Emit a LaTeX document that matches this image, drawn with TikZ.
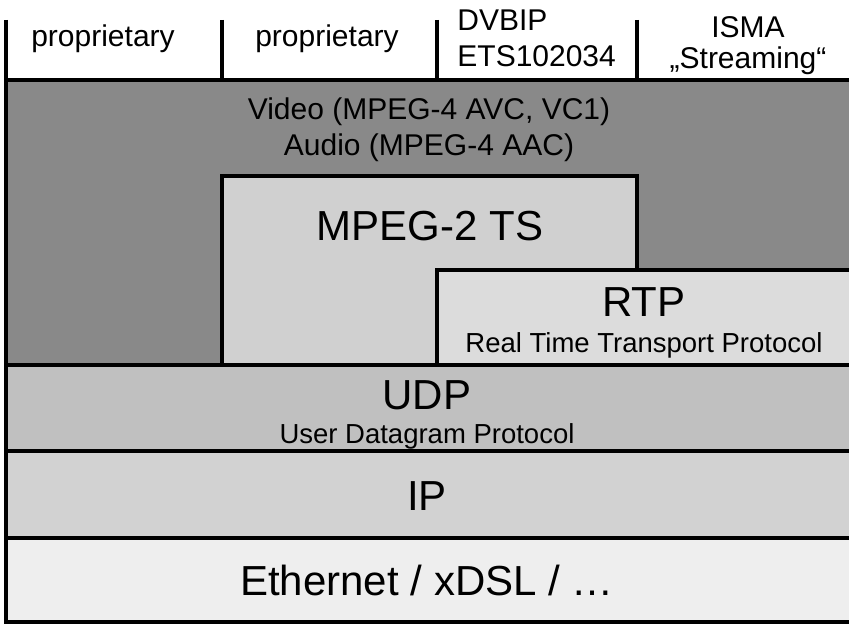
\documentclass[tikz,border=0pt]{standalone}
\usepackage{fontspec}
\setmainfont{Liberation Sans}
\usetikzlibrary{positioning}
\definecolor{avgray}{HTML}{898989}
\definecolor{tsgray}{HTML}{D0D0D0}
\definecolor{rtpgray}{HTML}{DCDCDC}
\definecolor{udpgray}{HTML}{C0C0C0}
\definecolor{ipgray}{HTML}{D2D2D2}
\definecolor{ethgray}{HTML}{EEEEEE}
\tikzset{
  layer/.style={draw=black, line width=2.2pt},
  bigtext/.style={font=\fontsize{21}{25}\selectfont, inner sep=0pt, anchor=base},
  midtext/.style={font=\fontsize{15}{18}\selectfont, inner sep=0pt, anchor=base},
  smalltext/.style={font=\fontsize{13.75}{16}\selectfont, inner sep=0pt, anchor=base}
}

\begin{document}
\begin{tikzpicture}[x=0.5pt, y=-0.5pt]
  \useasboundingbox (0,0) rectangle (849,624);
  \clip (0,0) rectangle (849,624);

  % codec layer with the two containers
  \filldraw[layer, fill=avgray] (6,80) rectangle (870,365);
  \filldraw[layer, fill=tsgray] (222,176) rectangle (637,365);
  \filldraw[layer, fill=rtpgray] (437,270) rectangle (870,365);

  % lower layers
  \filldraw[layer, fill=udpgray] (6,365) rectangle (870,451);
  \filldraw[layer, fill=ipgray] (6,451) rectangle (870,538);
  \filldraw[layer, fill=ethgray] (6,538) rectangle (870,622);

  % column separators on top
  \foreach \sx in {6,222,437,637}
    \draw[layer] (\sx,20) -- (\sx,80);

  \node[midtext] (prop1) at (103,47) {proprietary};
  \node[midtext] (prop2) at (327,47) {proprietary};
  \node[midtext, align=left, anchor=base west] (dvbip) at (457,67) {DVBIP\\ETS102034};
  \node[midtext, align=center, font=\fontsize{15}{15.5}\selectfont] (isma) at (748,69) {ISMA\\„Streaming“};

  \node[midtext, align=center] (avtext) at (429,156) {Video (MPEG-4 AVC, VC1)\\Audio (MPEG-4 AAC)};
  \node[bigtext] (mpegts) at (430,241) {MPEG-2 TS};
  \node[bigtext] (rtp) at (644,317) {RTP};
  \node[smalltext] (rtpsub) at (644,352) {Real Time Transport Protocol};

  \node[bigtext] (udp) at (427,409) {UDP};
  \node[smalltext] (udpsub) at (427,443) {User Datagram Protocol};
  \node[bigtext] (ip) at (427,510) {IP};
  \node[bigtext] (eth) at (427,595) {Ethernet / xDSL / …};
\end{tikzpicture}
\end{document}
